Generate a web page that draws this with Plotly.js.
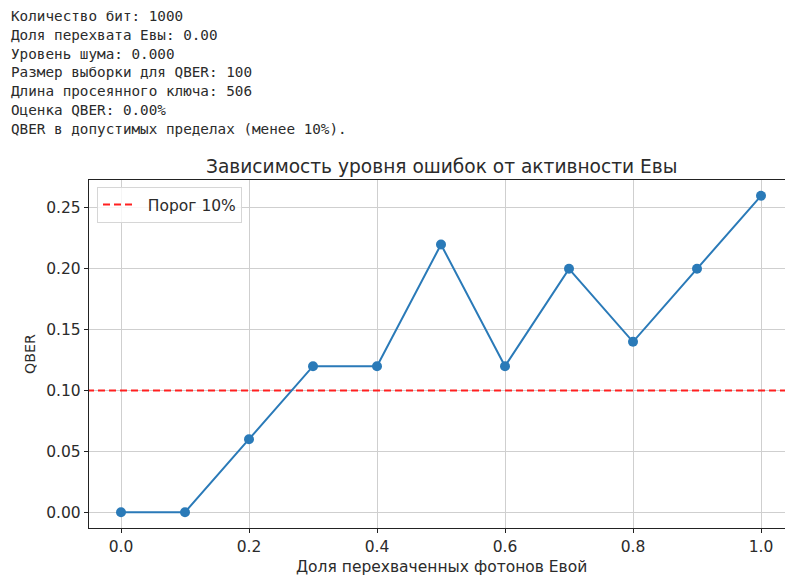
<!DOCTYPE html>
<html>
<head>
<meta charset="utf-8">
<script src="https://cdn.plot.ly/plotly-3.0.1.min.js"></script>
<style>html,body{margin:0;padding:0;background:#fff;}#chart{width:785px;height:578px;}</style>
</head>
<body>
<div id="chart"></div>
<script>
// ---- data ----
const infoLines = [
  "Количество бит: 1000",
  "Доля перехвата Евы: 0.00",
  "Уровень шума: 0.000",
  "Размер выборки для QBER: 100",
  "Длина просеянного ключа: 506",
  "Оценка QBER: 0.00%",
  "QBER в допустимых пределах (менее 10%)."
];
const eveFraction = [0.0, 0.1, 0.2, 0.3, 0.4, 0.5, 0.6, 0.7, 0.8, 0.9, 1.0];
const qberValues  = [0.00, 0.00, 0.06, 0.12, 0.12, 0.22, 0.12, 0.20, 0.14, 0.20, 0.26];
const thresholdValue = 0.10;
const thresholdLabel = "Порог 10%";
const xTickVals = [0.0, 0.2, 0.4, 0.6, 0.8, 1.0];
const xTickText = ["0.0", "0.2", "0.4", "0.6", "0.8", "1.0"];
const yTickVals = [0.00, 0.05, 0.10, 0.15, 0.20, 0.25];
const yTickText = ["0.00", "0.05", "0.10", "0.15", "0.20", "0.25"];
const chartTitle = "Зависимость уровня ошибок от активности Евы";
const xLabel = "Доля перехваченных фотонов Евой";
const yLabel = "QBER";

// ---- layout geometry ----
const W = 785, H = 578;
const mL = 89, mR = 0, mT = 180, mB = 50;
const plotH = H - mT - mB;
const xRange = [-0.05, 1.0375];
const yRange = [-0.013, 0.273];

const font = "DejaVu Sans, sans-serif";
const mono = "DejaVu Sans Mono, monospace";
const txt = "#2b2b2b";

function pyToPaper(py) { return (H - mB - py) / plotH; }

const annotations = infoLines.map((t, i) => ({
  text: t, xref: "paper", yref: "paper",
  x: (9 - mL) / (W - mL - mR), y: pyToPaper(16 + i * 18.8),
  xanchor: "left", yanchor: "middle", showarrow: false,
  font: {family: mono, size: 14.3, color: txt}
}));
annotations.push({
  text: chartTitle, xref: "x", yref: "paper", x: 0.5, y: pyToPaper(166),
  xanchor: "center", yanchor: "middle", showarrow: false,
  font: {family: font, size: 18.6, color: txt}
});
annotations.push({
  text: xLabel, xref: "x", yref: "paper", x: 0.5, y: pyToPaper(567),
  xanchor: "center", yanchor: "middle", showarrow: false,
  font: {family: font, size: 15.5, color: txt}
});

const traces = [
  {
    x: [xRange[0] - 1, xRange[1] + 1], y: [thresholdValue, thresholdValue],
    mode: "lines", name: "\u00a0\u00a0" + thresholdLabel,
    line: {color: "#ff2020", width: 2, dash: "7px,4px"},
    hoverinfo: "skip"
  },
  {
    x: eveFraction, y: qberValues, mode: "lines+markers",
    showlegend: false,
    line: {color: "#2a7ab8", width: 2},
    marker: {color: "#2a7ab8", size: 10}
  }
];

const layout = {
  width: W, height: H,
  margin: {l: mL, r: mR, t: mT, b: mB, pad: 0},
  paper_bgcolor: "#fff", plot_bgcolor: "#fff",
  showlegend: true,
  legend: {
    x: (97 - mL) / (W - mL - mR), y: pyToPaper(187),
    xanchor: "left", yanchor: "top",
    bgcolor: "rgba(255,255,255,0.8)", bordercolor: "#d6d6d6", borderwidth: 1,
    font: {family: font, size: 15.5, color: txt}
  },
  xaxis: {
    range: xRange, tickvals: xTickVals, ticktext: xTickText,
    showgrid: true, gridcolor: "#cfcfcf", gridwidth: 1,
    zeroline: false, showline: true, linecolor: "#222", linewidth: 1.2, mirror: true,
    ticks: "outside", ticklen: 4, tickcolor: "#222",
    tickfont: {family: font, size: 15.5, color: txt}
  },
  yaxis: {
    range: yRange, tickvals: yTickVals, ticktext: yTickText,
    showgrid: true, gridcolor: "#cfcfcf", gridwidth: 1,
    zeroline: false, showline: true, linecolor: "#222", linewidth: 1.2, mirror: false,
    ticks: "outside", ticklen: 4, tickcolor: "#222",
    tickfont: {family: font, size: 15.5, color: txt},
    title: {text: yLabel, font: {family: font, size: 14.2, color: txt}, standoff: 7}
  },
  annotations: annotations
};

Plotly.newPlot("chart", traces, layout, {staticPlot: true, displayModeBar: false});
</script>
</body>
</html>
